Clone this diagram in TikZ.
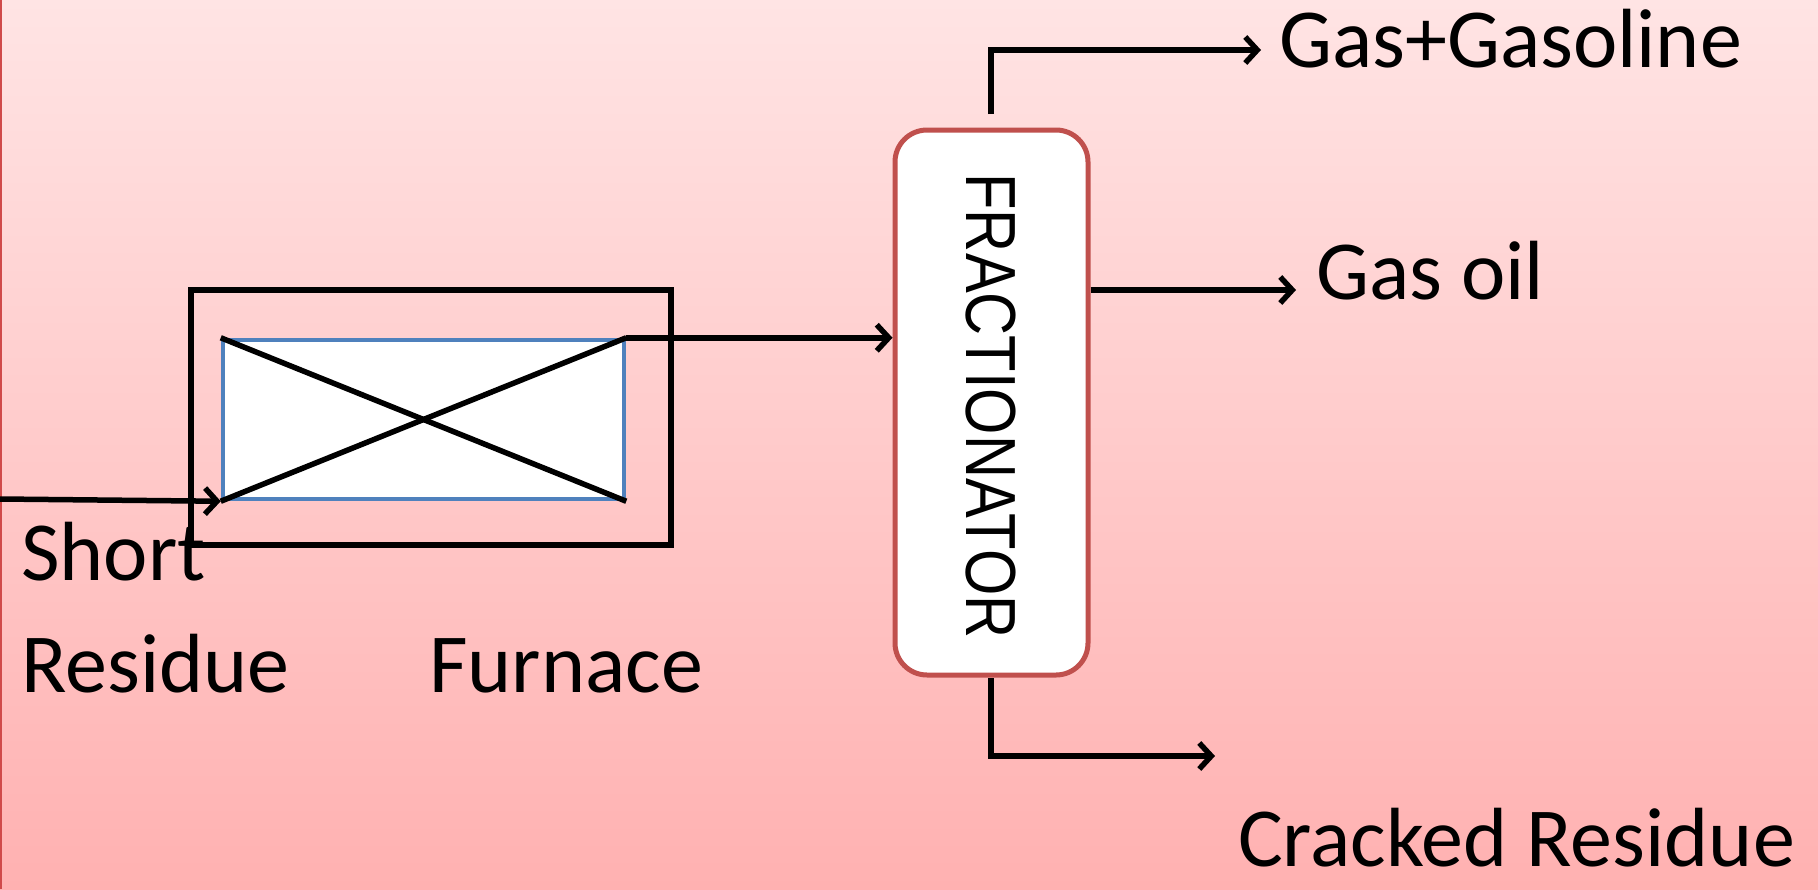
\documentclass[tikz,border=0pt]{standalone}
\usepackage{fontspec}
\setmainfont{Carlito}
\newfontfamily\arialf{Liberation Sans}
\usetikzlibrary{arrows.meta,calc}
\definecolor{bgtop}{HTML}{FFE4E4}
\definecolor{bgbot}{HTML}{FFB1B1}
\definecolor{edgered}{HTML}{D04A4A}
\definecolor{furnblue}{HTML}{4F81BD}
\definecolor{fracred}{HTML}{C0504D}
\tikzset{
  flow/.style={draw=black, line width=5.5pt, -{Straight Barb[length=12pt,width=26pt]}},
  plain/.style={draw=black, line width=5.5pt},
  lbl/.style={font=\fontsize{84}{100}\selectfont, text=black, inner sep=0pt, anchor=base west},
  furnbox/.style={draw=furnblue, line width=4.5pt, fill=white, minimum width=401pt, minimum height=159pt, inner sep=0pt},
  casing/.style={draw=black, line width=6pt, minimum width=480pt, minimum height=255pt, inner sep=0pt},
  column/.style={draw=fracred, line width=5pt, fill=white, rounded corners=32pt, minimum width=193pt, minimum height=545pt, inner sep=0pt}
}
\begin{document}
\begin{tikzpicture}[x=1pt,y=-1pt]
\useasboundingbox (0,0) rectangle (1818,889);
% background
\shade[top color=bgtop, bottom color=bgbot] (0,0) rectangle (1818,889);
\draw[edgered, line width=2pt] (1,0) -- (1,889);

% furnace
\node[casing] (casing) at (431,417.5) {};
\node[furnbox] (furn) at (423.5,419.5) {};
\draw[plain] (furn.north west) -- (furn.south east);
\draw[plain] (furn.south west) -- (furn.north east);

% fractionator column
\node[column] (frac) at (991.5,402.5) {};
\node[rotate=-90, font=\arialf\fontsize{71}{80}\selectfont, inner sep=0pt] (fractxt) at (991,406) {\scalebox{0.84}[1]{FRACTIONATOR}};

% feed and transfer lines
\coordinate (feed) at (0,499);
\draw[flow] (feed) -- (furn.south west);
\draw[flow] (furn.north east) -- (furn.north east -| frac.west);

% products
\coordinate (topout) at (991,114);
\coordinate (topturn) at (991,50);
\coordinate (topend) at (1261,50);
\draw[flow] (topout) -- (topturn) -- (topend);

\coordinate (oillevel) at (0,290);
\coordinate (oilend) at (1296,290);
\draw[flow] (frac.east |- oillevel) -- (oilend);

\coordinate (botout) at (991,678);
\coordinate (botturn) at (991,756);
\coordinate (botend) at (1215,756);
\draw[flow] (botout) -- (botturn) -- (botend);

% labels
\node[lbl] (gasgas) at (1279,67) {Gas+Gasoline};
\node[lbl] (gasoil) at (1316,299) {Gas oil};
\node[lbl] (cracked) at (1238,866) {Cracked Residue};
\node[lbl] (short) at (21,580) {Short};
\node[lbl] (resid) at (21,692) {Residue};
\node[lbl] (furnlbl) at (429,692) {Furnace};
\end{tikzpicture}
\end{document}
